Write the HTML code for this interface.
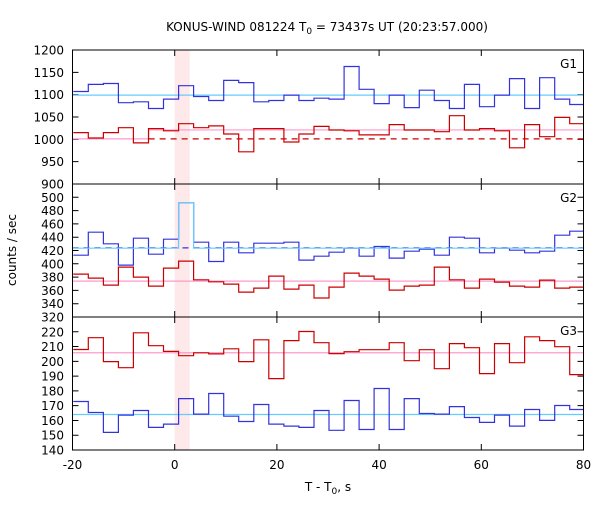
<!DOCTYPE html>
<html><head><meta charset="utf-8"><style>
body{margin:0;background:#fff}
svg text{font-family:"DejaVu Sans","Liberation Sans",sans-serif;font-size:12px;fill:#000}
</style></head><body>
<svg id="chart" width="600" height="500">
<text x="327" y="31" text-anchor="middle">KONUS-WIND 081224 T<tspan font-size="9" dy="3">0</tspan><tspan dy="-3"> = 73437s UT (20:23:57.000)</tspan></text>
<text transform="translate(16,250) rotate(-90)" text-anchor="middle">counts / sec</text>
<text x="328" y="491" text-anchor="middle">T - T<tspan font-size="9" dy="3">0</tspan><tspan dy="-3">, s</tspan></text>
</svg>
<script>
const binStart=-19.85, binWidth=2.944;
const xTicks=[-20,0,20,40,60,80];
const g1Blue=[1107,1123,1125,1082,1084,1069,1090,1120,1096,1087,1132,1127,1084,1087,1099,1087,1092,1090,1163,1112,1080,1099,1071,1110,1087,1069,1123,1073,1099,1136,1069,1138,1090,1078];
const g1Red=[1015,1003,1015,1026,992,1024,1019,1035,1026,1030,1012,972,1024,1024,994,1012,1029,1021,1019,1010,1010,1033,1021,1021,1017,1053,1021,1024,1019,981,1033,1006,1049,1035];
const g2Blue=[413,447.5,430,398,438.5,414.5,437,492,432.5,403.5,432.5,416.5,431,431,432.5,405.5,411.5,417.5,423.5,411.5,426,408.5,419,422,413,440,438.5,416.5,423.5,420.5,416.5,419,443,449];
const g2Red=[384.5,378.5,368,395,380,366.5,393.5,404,376,373,369.5,357.5,363.5,381.5,362,368,348.5,365,386,381.5,377,360.5,366.5,368,395,376,363.5,377,372.5,366.5,365,375.5,363.5,365];
const g3Red=[208,216,199.8,195.7,219.3,210.6,206.7,203.8,205.8,205,208.5,199.8,214.6,188.3,214,220.2,212.6,205.2,206.5,207.9,207.9,212.6,200.4,207.9,195,212,209.2,191.7,212,199.1,216.6,214,209.9,191];
const g3Blue=[172.8,165.4,151.9,163.6,166.7,155.3,157.5,174.8,164.3,178.2,162.9,159.3,170.8,157.5,156.2,155.3,166.7,153.3,173.5,153.9,181.6,153.9,174.8,164.7,164.3,169.4,162,158.7,163.6,156.2,167.4,160,170.1,167.4];
const g1Ticks=[900,950,1000,1050,1100,1150,1200];
const g2Ticks=[320,340,360,380,400,420,440,460,480,500];
const g3Ticks=[140,150,160,170,180,190,200,210,220];
const g1Means={blue:1099,redPre:1001,redPost:1021,redDash:1001,split:-5.1};
const g2Means={blue:424,cyan:423.5,red:374,spikeBin:7};
const g3Means={red:205.8,blue:164};

const svg=document.getElementById('chart');
const NS='http://www.w3.org/2000/svg';
const L=72.5,R=583.5;
const X=t=>L+(t+20)*(R-L)/100;
function el(tag,attrs){const e=document.createElementNS(NS,tag);for(const k in attrs)e.setAttribute(k,attrs[k]);svg.appendChild(e);return e;}
function stepPath(vals,Y){let d='';vals.forEach((v,i)=>{let a=Math.max(-20,binStart+i*binWidth),b=Math.min(80,binStart+(i+1)*binWidth);d+=(i?'L':'M')+X(a).toFixed(1)+','+Y(v).toFixed(1)+'L'+X(b).toFixed(1)+','+Y(v).toFixed(1);});return d;}
const panels=[{top:50,bot:184,min:900,max:1200,ticks:g1Ticks,label:'G1'},{top:184,bot:317,min:320,max:520,ticks:g2Ticks,label:'G2'},{top:317,bot:450,min:140,max:230,ticks:g3Ticks,label:'G3'}];
const band=el('rect',{x:X(0),y:50,width:X(2.944)-X(0),height:400,fill:'#fde8ea'});


panels.forEach((p,pi)=>{
  const Y=v=>p.bot-(v-p.min)*(p.bot-p.top)/(p.max-p.min);
  p.Y=Y;
  p.ticks.forEach(v=>{
    if(!(pi>0&&v===p.max)){
    const t=el('text',{x:64,y:Y(v)+4.5,'text-anchor':'end'});t.textContent=v;
    
    }
    if(v>p.min&&v<p.max){
    const tk=el('path',{d:`M${L},${Y(v)}h6M${R},${Y(v)}h-6`,stroke:'#000','stroke-width':1});
    
    }
  });
  xTicks.forEach(t=>{if(t>-20&&t<80){const tk=el('path',{d:`M${X(t)},${p.top}v6M${X(t)},${p.bot}v-6`,stroke:'#000'});
    
    }});
  const lab=el('text',{x:577,y:p.top+18,'text-anchor':'end'});lab.textContent=p.label;
  
  
});
function line(d,stroke,name,dash){const e=el('path',{d,stroke,fill:'none','stroke-width':1.2});if(dash)e.setAttribute('stroke-dasharray',dash);
  
  return e;}
let Y=panels[0].Y;
line(`M${L},${Y(g1Means.blue)}H${R}`,'#66ccff','g1-blue-mean');
line(`M${L},${Y(g1Means.redPre)}H${X(g1Means.split)}V${Y(g1Means.redPost)}H${R}`,'#ff99cc','g1-red-mean');
line(`M${X(g1Means.split)},${Y(g1Means.redDash)}H${R}`,'#cc0000','g1-red-dashed-mean','6,5');
line(stepPath(g1Blue,Y),'#3333dd','g1-blue-series');
line(stepPath(g1Red,Y),'#cc0000','g1-red-series');
Y=panels[1].Y;
line(`M${L},${Y(g2Means.blue)}H${R}`,'#3333dd','g2-blue-dashed-mean','6,5');
line(`M${L},${Y(g2Means.red)}H${R}`,'#ff99cc','g2-red-mean');
line(stepPath(g2Blue,Y),'#3333dd','g2-blue-series');
line(stepPath(g2Red,Y),'#cc0000','g2-red-series');
{const i=g2Means.spikeBin,a=X(binStart+i*binWidth),b=X(binStart+(i+1)*binWidth);
line(`M${L},${Y(g2Means.cyan)}H${a}V${Y(g2Blue[i])}H${b}V${Y(g2Means.cyan)}H${R}`,'#66ccff','g2-cyan-mean');}
Y=panels[2].Y;
line(`M${L},${Y(g3Means.red)}H${R}`,'#ff99cc','g3-red-mean');
line(`M${L},${Y(g3Means.blue)}H${R}`,'#66ccff','g3-blue-mean');
line(stepPath(g3Red,Y),'#cc0000','g3-red-series');
line(stepPath(g3Blue,Y),'#3333dd','g3-blue-series');
panels.forEach((p,pi)=>{const f=el('rect',{x:L,y:p.top,width:R-L,height:p.bot-p.top,fill:'none',stroke:'#000','stroke-width':1});
  
  });
xTicks.forEach(t=>{const tx=el('text',{x:X(t),y:469,'text-anchor':'middle'});tx.textContent=t;
  
  });
</script>
</body></html>
